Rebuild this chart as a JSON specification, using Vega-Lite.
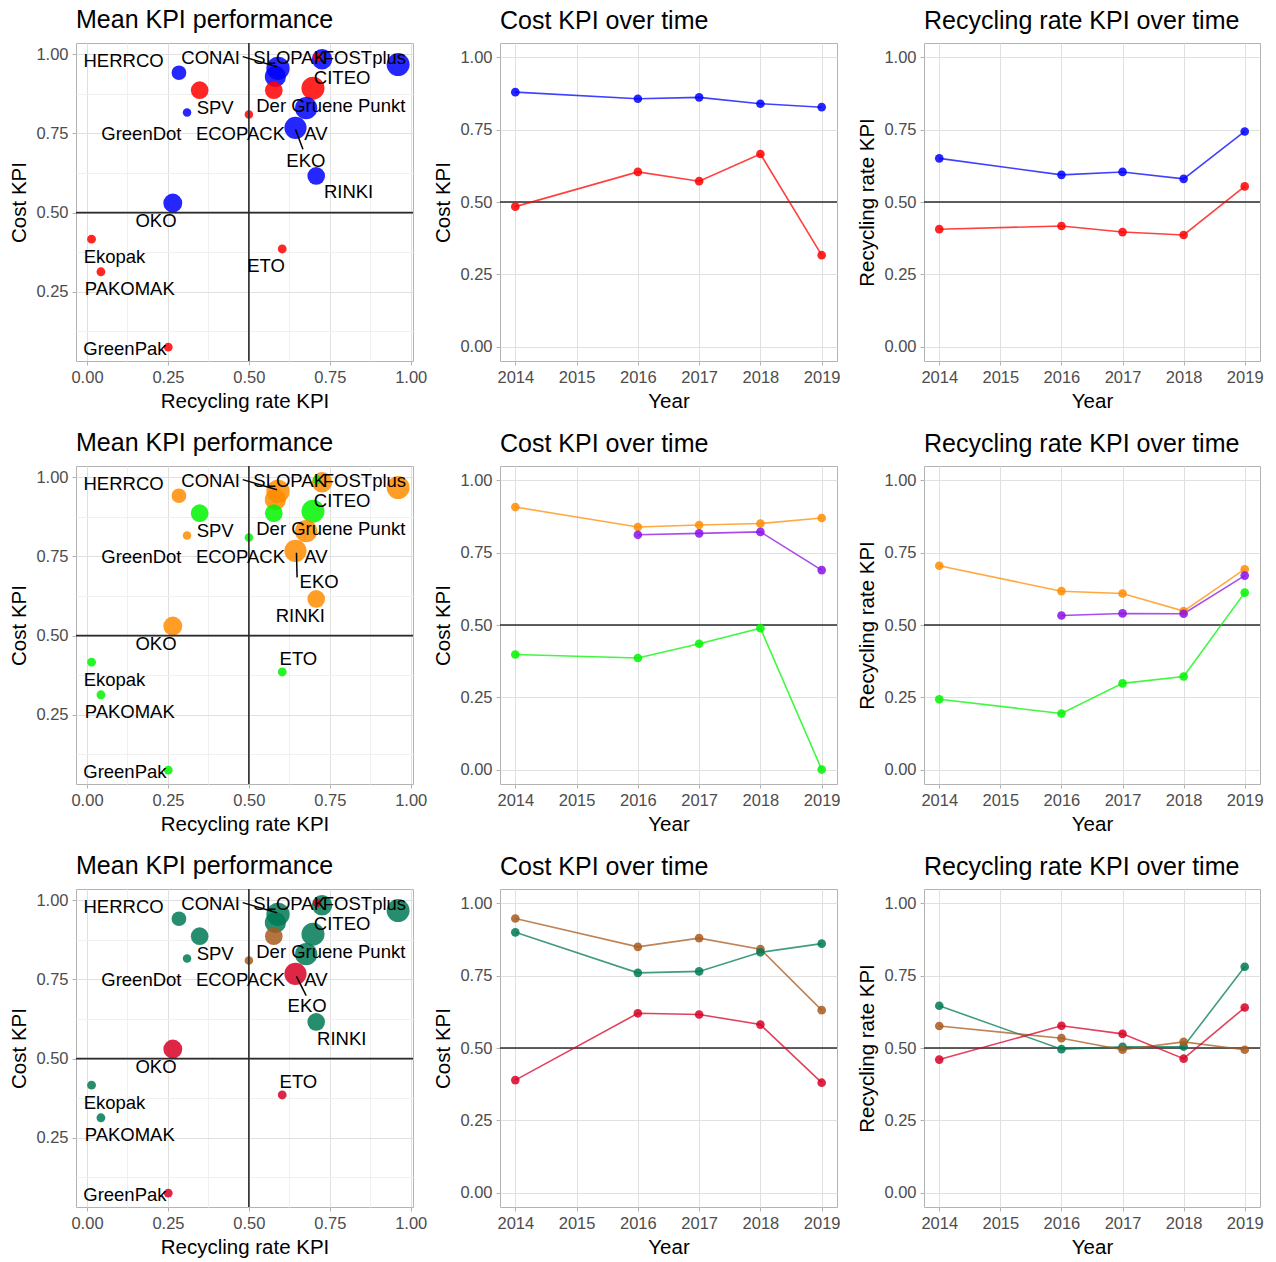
{
  "$schema": "https://vega.github.io/schema/vega-lite/v6.json",
  "padding": {"left": 9, "top": 7, "right": 0, "bottom": 0},
  "background": "white",
  "datasets": {
    "pts": [
      {"rr": 0.284, "cost": 0.942, "w": 36, "k1": "B1", "k2": "O2", "k3": "T3"},
      {"rr": 0.348, "cost": 0.887, "w": 52, "k1": "R1", "k2": "G2", "k3": "T3"},
      {"rr": 0.309, "cost": 0.816, "w": 12, "k1": "B1", "k2": "O2", "k3": "T3"},
      {"rr": 0.500, "cost": 0.810, "w": 12, "k1": "R1", "k2": "G2", "k3": "Br3"},
      {"rr": 0.590, "cost": 0.956, "w": 90, "k1": "B1", "k2": "O2", "k3": "T3"},
      {"rr": 0.582, "cost": 0.930, "w": 75, "k1": "B1", "k2": "O2", "k3": "T3"},
      {"rr": 0.577, "cost": 0.887, "w": 52, "k1": "R1", "k2": "G2", "k3": "Br3"},
      {"rr": 0.726, "cost": 0.985, "w": 70, "k1": "B1", "k2": "O2", "k3": "T3"},
      {"rr": 0.711, "cost": 0.992, "w": 13, "k1": "R1", "k2": "G2", "k3": "Rd3"},
      {"rr": 0.698, "cost": 0.893, "w": 88, "k1": "R1", "k2": "G2", "k3": "T3"},
      {"rr": 0.677, "cost": 0.830, "w": 82, "k1": "B1", "k2": "O2", "k3": "T3"},
      {"rr": 0.644, "cost": 0.768, "w": 82, "k1": "B1", "k2": "O2", "k3": "Rd3"},
      {"rr": 0.708, "cost": 0.616, "w": 52, "k1": "B1", "k2": "O2", "k3": "T3"},
      {"rr": 0.961, "cost": 0.968, "w": 88, "k1": "B1", "k2": "O2", "k3": "T3"},
      {"rr": 0.265, "cost": 0.530, "w": 60, "k1": "B1", "k2": "O2", "k3": "Rd3"},
      {"rr": 0.014, "cost": 0.416, "w": 13, "k1": "R1", "k2": "G2", "k3": "T3"},
      {"rr": 0.043, "cost": 0.313, "w": 13, "k1": "R1", "k2": "G2", "k3": "T3"},
      {"rr": 0.251, "cost": 0.075, "w": 13, "k1": "R1", "k2": "G2", "k3": "Rd3"},
      {"rr": 0.603, "cost": 0.385, "w": 13, "k1": "R1", "k2": "G2", "k3": "Rd3"}
    ],
    "labs": [
      {"name": "HERRCO", "lx": 0.113, "ly": 0.979, "panel": "all"},
      {"name": "CONAI", "lx": 0.382, "ly": 0.990, "panel": "all"},
      {"name": "SLOPAK", "lx": 0.626, "ly": 0.990, "panel": "all"},
      {"name": "FOSTplus", "lx": 0.857, "ly": 0.990, "panel": "all"},
      {"name": "CITEO", "lx": 0.788, "ly": 0.926, "panel": "all"},
      {"name": "SPV", "lx": 0.396, "ly": 0.832, "panel": "all"},
      {"name": "Der Gruene Punkt", "lx": 0.753, "ly": 0.837, "panel": "all"},
      {"name": "GreenDot", "lx": 0.168, "ly": 0.748, "panel": "all"},
      {"name": "ECOPACK", "lx": 0.474, "ly": 0.748, "panel": "all"},
      {"name": "AV", "lx": 0.707, "ly": 0.748, "panel": "all"},
      {"name": "OKO", "lx": 0.213, "ly": 0.474, "panel": "all"},
      {"name": "Ekopak", "lx": 0.085, "ly": 0.361, "panel": "all"},
      {"name": "PAKOMAK", "lx": 0.132, "ly": 0.259, "panel": "all"},
      {"name": "GreenPak", "lx": 0.117, "ly": 0.069, "panel": "all"},
      {"name": "EKO", "lx": 0.676, "ly": 0.663, "panel": "p1"},
      {"name": "RINKI", "lx": 0.808, "ly": 0.564, "panel": "p1"},
      {"name": "ETO", "lx": 0.553, "ly": 0.330, "panel": "p1"},
      {"name": "EKO", "lx": 0.717, "ly": 0.669, "panel": "p2"},
      {"name": "RINKI", "lx": 0.659, "ly": 0.562, "panel": "p2"},
      {"name": "ETO", "lx": 0.653, "ly": 0.427, "panel": "p2"},
      {"name": "EKO", "lx": 0.680, "ly": 0.666, "panel": "p3"},
      {"name": "RINKI", "lx": 0.787, "ly": 0.563, "panel": "p3"},
      {"name": "ETO", "lx": 0.653, "ly": 0.426, "panel": "p3"}
    ],
    "segs": [
      {"x": 0.481, "y": 0.993, "x2": 0.587, "y2": 0.961, "panel": "all"},
      {"x": 0.644, "y": 0.763, "x2": 0.667, "y2": 0.700, "panel": "p1"},
      {"x": 0.647, "y": 0.762, "x2": 0.649, "y2": 0.684, "panel": "p2"},
      {"x": 0.647, "y": 0.760, "x2": 0.677, "y2": 0.699, "panel": "p3"}
    ],
    "ref": [{"ref": 0.5}],
    "ts": [
      {"panel": "p1", "kpi": "cost", "k": "B1", "year": 2014, "value": 0.880},
      {"panel": "p1", "kpi": "cost", "k": "B1", "year": 2016, "value": 0.857},
      {"panel": "p1", "kpi": "cost", "k": "B1", "year": 2017, "value": 0.862},
      {"panel": "p1", "kpi": "cost", "k": "B1", "year": 2018, "value": 0.840},
      {"panel": "p1", "kpi": "cost", "k": "B1", "year": 2019, "value": 0.828},
      {"panel": "p1", "kpi": "cost", "k": "R1", "year": 2014, "value": 0.484},
      {"panel": "p1", "kpi": "cost", "k": "R1", "year": 2016, "value": 0.604},
      {"panel": "p1", "kpi": "cost", "k": "R1", "year": 2017, "value": 0.572},
      {"panel": "p1", "kpi": "cost", "k": "R1", "year": 2018, "value": 0.666},
      {"panel": "p1", "kpi": "cost", "k": "R1", "year": 2019, "value": 0.316},
      {"panel": "p1", "kpi": "rr", "k": "B1", "year": 2014, "value": 0.651},
      {"panel": "p1", "kpi": "rr", "k": "B1", "year": 2016, "value": 0.594},
      {"panel": "p1", "kpi": "rr", "k": "B1", "year": 2017, "value": 0.604},
      {"panel": "p1", "kpi": "rr", "k": "B1", "year": 2018, "value": 0.580},
      {"panel": "p1", "kpi": "rr", "k": "B1", "year": 2019, "value": 0.744},
      {"panel": "p1", "kpi": "rr", "k": "R1", "year": 2014, "value": 0.406},
      {"panel": "p1", "kpi": "rr", "k": "R1", "year": 2016, "value": 0.417},
      {"panel": "p1", "kpi": "rr", "k": "R1", "year": 2017, "value": 0.396},
      {"panel": "p1", "kpi": "rr", "k": "R1", "year": 2018, "value": 0.386},
      {"panel": "p1", "kpi": "rr", "k": "R1", "year": 2019, "value": 0.554},
      {"panel": "p2", "kpi": "cost", "k": "O2", "year": 2014, "value": 0.908},
      {"panel": "p2", "kpi": "cost", "k": "O2", "year": 2016, "value": 0.839},
      {"panel": "p2", "kpi": "cost", "k": "O2", "year": 2017, "value": 0.846},
      {"panel": "p2", "kpi": "cost", "k": "O2", "year": 2018, "value": 0.851},
      {"panel": "p2", "kpi": "cost", "k": "O2", "year": 2019, "value": 0.870},
      {"panel": "p2", "kpi": "cost", "k": "P2", "year": 2016, "value": 0.812},
      {"panel": "p2", "kpi": "cost", "k": "P2", "year": 2017, "value": 0.817},
      {"panel": "p2", "kpi": "cost", "k": "P2", "year": 2018, "value": 0.822},
      {"panel": "p2", "kpi": "cost", "k": "P2", "year": 2019, "value": 0.690},
      {"panel": "p2", "kpi": "cost", "k": "G2", "year": 2014, "value": 0.398},
      {"panel": "p2", "kpi": "cost", "k": "G2", "year": 2016, "value": 0.386},
      {"panel": "p2", "kpi": "cost", "k": "G2", "year": 2017, "value": 0.435},
      {"panel": "p2", "kpi": "cost", "k": "G2", "year": 2018, "value": 0.489},
      {"panel": "p2", "kpi": "cost", "k": "G2", "year": 2019, "value": 0.000},
      {"panel": "p2", "kpi": "rr", "k": "O2", "year": 2014, "value": 0.705},
      {"panel": "p2", "kpi": "rr", "k": "O2", "year": 2016, "value": 0.617},
      {"panel": "p2", "kpi": "rr", "k": "O2", "year": 2017, "value": 0.609},
      {"panel": "p2", "kpi": "rr", "k": "O2", "year": 2018, "value": 0.548},
      {"panel": "p2", "kpi": "rr", "k": "O2", "year": 2019, "value": 0.693},
      {"panel": "p2", "kpi": "rr", "k": "P2", "year": 2016, "value": 0.533},
      {"panel": "p2", "kpi": "rr", "k": "P2", "year": 2017, "value": 0.540},
      {"panel": "p2", "kpi": "rr", "k": "P2", "year": 2018, "value": 0.539},
      {"panel": "p2", "kpi": "rr", "k": "P2", "year": 2019, "value": 0.671},
      {"panel": "p2", "kpi": "rr", "k": "G2", "year": 2014, "value": 0.243},
      {"panel": "p2", "kpi": "rr", "k": "G2", "year": 2016, "value": 0.194},
      {"panel": "p2", "kpi": "rr", "k": "G2", "year": 2017, "value": 0.298},
      {"panel": "p2", "kpi": "rr", "k": "G2", "year": 2018, "value": 0.322},
      {"panel": "p2", "kpi": "rr", "k": "G2", "year": 2019, "value": 0.612},
      {"panel": "p3", "kpi": "cost", "k": "Br3", "year": 2014, "value": 0.948},
      {"panel": "p3", "kpi": "cost", "k": "Br3", "year": 2016, "value": 0.850},
      {"panel": "p3", "kpi": "cost", "k": "Br3", "year": 2017, "value": 0.880},
      {"panel": "p3", "kpi": "cost", "k": "Br3", "year": 2018, "value": 0.842},
      {"panel": "p3", "kpi": "cost", "k": "Br3", "year": 2019, "value": 0.631},
      {"panel": "p3", "kpi": "cost", "k": "T3", "year": 2014, "value": 0.900},
      {"panel": "p3", "kpi": "cost", "k": "T3", "year": 2016, "value": 0.760},
      {"panel": "p3", "kpi": "cost", "k": "T3", "year": 2017, "value": 0.765},
      {"panel": "p3", "kpi": "cost", "k": "T3", "year": 2018, "value": 0.831},
      {"panel": "p3", "kpi": "cost", "k": "T3", "year": 2019, "value": 0.861},
      {"panel": "p3", "kpi": "cost", "k": "Rd3", "year": 2014, "value": 0.389},
      {"panel": "p3", "kpi": "cost", "k": "Rd3", "year": 2016, "value": 0.620},
      {"panel": "p3", "kpi": "cost", "k": "Rd3", "year": 2017, "value": 0.616},
      {"panel": "p3", "kpi": "cost", "k": "Rd3", "year": 2018, "value": 0.581},
      {"panel": "p3", "kpi": "cost", "k": "Rd3", "year": 2019, "value": 0.380},
      {"panel": "p3", "kpi": "rr", "k": "T3", "year": 2014, "value": 0.646},
      {"panel": "p3", "kpi": "rr", "k": "T3", "year": 2016, "value": 0.496},
      {"panel": "p3", "kpi": "rr", "k": "T3", "year": 2017, "value": 0.504},
      {"panel": "p3", "kpi": "rr", "k": "T3", "year": 2018, "value": 0.505},
      {"panel": "p3", "kpi": "rr", "k": "T3", "year": 2019, "value": 0.781},
      {"panel": "p3", "kpi": "rr", "k": "Br3", "year": 2014, "value": 0.576},
      {"panel": "p3", "kpi": "rr", "k": "Br3", "year": 2016, "value": 0.534},
      {"panel": "p3", "kpi": "rr", "k": "Br3", "year": 2017, "value": 0.494},
      {"panel": "p3", "kpi": "rr", "k": "Br3", "year": 2018, "value": 0.521},
      {"panel": "p3", "kpi": "rr", "k": "Br3", "year": 2019, "value": 0.494},
      {"panel": "p3", "kpi": "rr", "k": "Rd3", "year": 2014, "value": 0.460},
      {"panel": "p3", "kpi": "rr", "k": "Rd3", "year": 2016, "value": 0.577},
      {"panel": "p3", "kpi": "rr", "k": "Rd3", "year": 2017, "value": 0.549},
      {"panel": "p3", "kpi": "rr", "k": "Rd3", "year": 2018, "value": 0.463},
      {"panel": "p3", "kpi": "rr", "k": "Rd3", "year": 2019, "value": 0.640}
    ]
  },
  "columns": 3,
  "bounds": "flush",
  "spacing": {"row": 105, "column": 87},
  "concat": [
    {
      "title": "Mean KPI performance", "width": 337, "height": 318,
      "layer": [
        {"data": {"name": "pts"}, "mark": {"type": "circle", "opacity": 0.85},
         "encoding": {
           "x": {"field": "rr", "type": "quantitative", "title": "Recycling rate KPI", "scale": {"domain": [-0.034, 1.007], "nice": false, "zero": false},
                 "axis": {"values": [0, 0.125, 0.25, 0.375, 0.5, 0.625, 0.75, 0.875, 1], "format": ".2f", "labelExpr": "datum.value % 0.25 === 0 ? datum.label : ''", "gridColor": {"condition": {"test": "datum.value % 0.25 === 0", "value": "#e0e0e0"}, "value": "#f0f0f0"}, "tickOpacity": {"condition": {"test": "datum.value % 0.25 === 0", "value": 1}, "value": 0}}},
           "y": {"field": "cost", "type": "quantitative", "title": "Cost KPI", "scale": {"domain": [0.031, 1.036], "nice": false, "zero": false},
                 "axis": {"values": [0.125, 0.25, 0.375, 0.5, 0.625, 0.75, 0.875, 1], "format": ".2f", "labelExpr": "datum.value % 0.25 === 0 ? datum.label : ''", "gridColor": {"condition": {"test": "datum.value % 0.25 === 0", "value": "#e0e0e0"}, "value": "#f0f0f0"}, "tickOpacity": {"condition": {"test": "datum.value % 0.25 === 0", "value": 1}, "value": 0}}},
           "size": {"field": "w", "type": "quantitative", "scale": {"type": "linear", "domain": [0, 100], "range": [0, 600]}, "legend": null},
           "color": {"field": "k1", "type": "nominal", "legend": null, "scale": {"domain": ["B1", "R1", "O2", "G2", "P2", "T3", "Br3", "Rd3"], "range": ["#0000ff", "#ff0000", "#ff8c00", "#00f500", "#8a10e8", "#007a55", "#a85a1e", "#d80026"]}}
         }},
        {"data": {"name": "ref"}, "mark": {"type": "rule", "color": "#2b2b2b", "strokeWidth": 1.6},
         "encoding": {"x": {"field": "ref", "type": "quantitative", "title": "Recycling rate KPI", "scale": {"domain": [-0.034, 1.007], "nice": false, "zero": false}}}},
        {"data": {"name": "ref"}, "mark": {"type": "rule", "color": "#2b2b2b", "strokeWidth": 1.6},
         "encoding": {"y": {"field": "ref", "type": "quantitative", "title": "Cost KPI", "scale": {"domain": [0.031, 1.036], "nice": false, "zero": false}}}},
        {"data": {"name": "segs"}, "transform": [{"filter": "datum.panel === 'all' || datum.panel === 'p1'"}], "mark": {"type": "rule", "color": "#000000", "strokeWidth": 1.5},
         "encoding": {"x": {"field": "x", "type": "quantitative", "title": "Recycling rate KPI", "scale": {"domain": [-0.034, 1.007], "nice": false, "zero": false}}, "y": {"field": "y", "type": "quantitative", "title": "Cost KPI", "scale": {"domain": [0.031, 1.036], "nice": false, "zero": false}}, "x2": {"field": "x2", "title": "Recycling rate KPI"}, "y2": {"field": "y2", "title": "Cost KPI"}}},
        {"data": {"name": "labs"}, "transform": [{"filter": "datum.panel === 'all' || datum.panel === 'p1'"}], "mark": {"type": "text", "fontSize": 18.5, "color": "#000000", "align": "center", "baseline": "middle"},
         "encoding": {"x": {"field": "lx", "type": "quantitative", "title": "Recycling rate KPI", "scale": {"domain": [-0.034, 1.007], "nice": false, "zero": false}}, "y": {"field": "ly", "type": "quantitative", "title": "Cost KPI", "scale": {"domain": [0.031, 1.036], "nice": false, "zero": false}}, "text": {"field": "name", "type": "nominal"}}}
      ]
    },
    {
      "title": "Cost KPI over time", "width": 337, "height": 318,
      "layer": [
        {"data": {"name": "ref"}, "mark": {"type": "rule", "color": "#2b2b2b", "strokeWidth": 1.6},
         "encoding": {"y": {"field": "ref", "type": "quantitative", "title": "Cost KPI", "scale": {"domain": [-0.05, 1.05], "nice": false, "zero": false},
           "axis": {"values": [0, 0.125, 0.25, 0.375, 0.5, 0.625, 0.75, 0.875, 1], "format": ".2f", "labelExpr": "datum.value % 0.25 === 0 ? datum.label : ''", "gridColor": {"condition": {"test": "datum.value % 0.25 === 0", "value": "#e0e0e0"}, "value": "#f0f0f0"}, "tickOpacity": {"condition": {"test": "datum.value % 0.25 === 0", "value": 1}, "value": 0}}}}},
        {"data": {"name": "ts"}, "transform": [{"filter": "datum.panel === 'p1' && datum.kpi === 'cost'"}], "mark": {"type": "line", "strokeWidth": 1.6, "opacity": 0.75},
         "encoding": {
           "x": {"field": "year", "type": "quantitative", "title": "Year", "scale": {"domain": [2013.75, 2019.25], "nice": false, "zero": false},
                 "axis": {"values": [2014, 2014.5, 2015, 2015.5, 2016, 2016.5, 2017, 2017.5, 2018, 2018.5, 2019], "format": "d", "labelExpr": "datum.value % 1 === 0 ? datum.label : ''", "gridColor": {"condition": {"test": "datum.value % 1 === 0", "value": "#e0e0e0"}, "value": "#f0f0f0"}, "tickOpacity": {"condition": {"test": "datum.value % 1 === 0", "value": 1}, "value": 0}}},
           "y": {"field": "value", "type": "quantitative", "title": "Cost KPI", "scale": {"domain": [-0.05, 1.05], "nice": false, "zero": false}},
           "color": {"field": "k", "type": "nominal", "legend": null, "scale": {"domain": ["B1", "R1", "O2", "G2", "P2", "T3", "Br3", "Rd3"], "range": ["#0000ff", "#ff0000", "#ff8c00", "#00f500", "#8a10e8", "#007a55", "#a85a1e", "#d80026"]}}
         }},
        {"data": {"name": "ts"}, "transform": [{"filter": "datum.panel === 'p1' && datum.kpi === 'cost'"}], "mark": {"type": "circle", "size": 75, "opacity": 0.85},
         "encoding": {
           "x": {"field": "year", "type": "quantitative", "title": "Year", "scale": {"domain": [2013.75, 2019.25], "nice": false, "zero": false}},
           "y": {"field": "value", "type": "quantitative", "title": "Cost KPI", "scale": {"domain": [-0.05, 1.05], "nice": false, "zero": false}},
           "color": {"field": "k", "type": "nominal", "legend": null, "scale": {"domain": ["B1", "R1", "O2", "G2", "P2", "T3", "Br3", "Rd3"], "range": ["#0000ff", "#ff0000", "#ff8c00", "#00f500", "#8a10e8", "#007a55", "#a85a1e", "#d80026"]}}
         }}
      ]
    },
    {
      "title": "Recycling rate KPI over time", "width": 336, "height": 318,
      "layer": [
        {"data": {"name": "ref"}, "mark": {"type": "rule", "color": "#2b2b2b", "strokeWidth": 1.6},
         "encoding": {"y": {"field": "ref", "type": "quantitative", "title": "Recycling rate KPI", "scale": {"domain": [-0.05, 1.05], "nice": false, "zero": false},
           "axis": {"values": [0, 0.125, 0.25, 0.375, 0.5, 0.625, 0.75, 0.875, 1], "format": ".2f", "labelExpr": "datum.value % 0.25 === 0 ? datum.label : ''", "gridColor": {"condition": {"test": "datum.value % 0.25 === 0", "value": "#e0e0e0"}, "value": "#f0f0f0"}, "tickOpacity": {"condition": {"test": "datum.value % 0.25 === 0", "value": 1}, "value": 0}}}}},
        {"data": {"name": "ts"}, "transform": [{"filter": "datum.panel === 'p1' && datum.kpi === 'rr'"}], "mark": {"type": "line", "strokeWidth": 1.6, "opacity": 0.75},
         "encoding": {
           "x": {"field": "year", "type": "quantitative", "title": "Year", "scale": {"domain": [2013.75, 2019.25], "nice": false, "zero": false},
                 "axis": {"values": [2014, 2014.5, 2015, 2015.5, 2016, 2016.5, 2017, 2017.5, 2018, 2018.5, 2019], "format": "d", "labelExpr": "datum.value % 1 === 0 ? datum.label : ''", "gridColor": {"condition": {"test": "datum.value % 1 === 0", "value": "#e0e0e0"}, "value": "#f0f0f0"}, "tickOpacity": {"condition": {"test": "datum.value % 1 === 0", "value": 1}, "value": 0}}},
           "y": {"field": "value", "type": "quantitative", "title": "Recycling rate KPI", "scale": {"domain": [-0.05, 1.05], "nice": false, "zero": false}},
           "color": {"field": "k", "type": "nominal", "legend": null, "scale": {"domain": ["B1", "R1", "O2", "G2", "P2", "T3", "Br3", "Rd3"], "range": ["#0000ff", "#ff0000", "#ff8c00", "#00f500", "#8a10e8", "#007a55", "#a85a1e", "#d80026"]}}
         }},
        {"data": {"name": "ts"}, "transform": [{"filter": "datum.panel === 'p1' && datum.kpi === 'rr'"}], "mark": {"type": "circle", "size": 75, "opacity": 0.85},
         "encoding": {
           "x": {"field": "year", "type": "quantitative", "title": "Year", "scale": {"domain": [2013.75, 2019.25], "nice": false, "zero": false}},
           "y": {"field": "value", "type": "quantitative", "title": "Recycling rate KPI", "scale": {"domain": [-0.05, 1.05], "nice": false, "zero": false}},
           "color": {"field": "k", "type": "nominal", "legend": null, "scale": {"domain": ["B1", "R1", "O2", "G2", "P2", "T3", "Br3", "Rd3"], "range": ["#0000ff", "#ff0000", "#ff8c00", "#00f500", "#8a10e8", "#007a55", "#a85a1e", "#d80026"]}}
         }}
      ]
    },
    {
      "title": "Mean KPI performance", "width": 337, "height": 318,
      "layer": [
        {"data": {"name": "pts"}, "mark": {"type": "circle", "opacity": 0.85},
         "encoding": {
           "x": {"field": "rr", "type": "quantitative", "title": "Recycling rate KPI", "scale": {"domain": [-0.034, 1.007], "nice": false, "zero": false},
                 "axis": {"values": [0, 0.125, 0.25, 0.375, 0.5, 0.625, 0.75, 0.875, 1], "format": ".2f", "labelExpr": "datum.value % 0.25 === 0 ? datum.label : ''", "gridColor": {"condition": {"test": "datum.value % 0.25 === 0", "value": "#e0e0e0"}, "value": "#f0f0f0"}, "tickOpacity": {"condition": {"test": "datum.value % 0.25 === 0", "value": 1}, "value": 0}}},
           "y": {"field": "cost", "type": "quantitative", "title": "Cost KPI", "scale": {"domain": [0.031, 1.036], "nice": false, "zero": false},
                 "axis": {"values": [0.125, 0.25, 0.375, 0.5, 0.625, 0.75, 0.875, 1], "format": ".2f", "labelExpr": "datum.value % 0.25 === 0 ? datum.label : ''", "gridColor": {"condition": {"test": "datum.value % 0.25 === 0", "value": "#e0e0e0"}, "value": "#f0f0f0"}, "tickOpacity": {"condition": {"test": "datum.value % 0.25 === 0", "value": 1}, "value": 0}}},
           "size": {"field": "w", "type": "quantitative", "scale": {"type": "linear", "domain": [0, 100], "range": [0, 600]}, "legend": null},
           "color": {"field": "k2", "type": "nominal", "legend": null, "scale": {"domain": ["B1", "R1", "O2", "G2", "P2", "T3", "Br3", "Rd3"], "range": ["#0000ff", "#ff0000", "#ff8c00", "#00f500", "#8a10e8", "#007a55", "#a85a1e", "#d80026"]}}
         }},
        {"data": {"name": "ref"}, "mark": {"type": "rule", "color": "#2b2b2b", "strokeWidth": 1.6},
         "encoding": {"x": {"field": "ref", "type": "quantitative", "title": "Recycling rate KPI", "scale": {"domain": [-0.034, 1.007], "nice": false, "zero": false}}}},
        {"data": {"name": "ref"}, "mark": {"type": "rule", "color": "#2b2b2b", "strokeWidth": 1.6},
         "encoding": {"y": {"field": "ref", "type": "quantitative", "title": "Cost KPI", "scale": {"domain": [0.031, 1.036], "nice": false, "zero": false}}}},
        {"data": {"name": "segs"}, "transform": [{"filter": "datum.panel === 'all' || datum.panel === 'p2'"}], "mark": {"type": "rule", "color": "#000000", "strokeWidth": 1.5},
         "encoding": {"x": {"field": "x", "type": "quantitative", "title": "Recycling rate KPI", "scale": {"domain": [-0.034, 1.007], "nice": false, "zero": false}}, "y": {"field": "y", "type": "quantitative", "title": "Cost KPI", "scale": {"domain": [0.031, 1.036], "nice": false, "zero": false}}, "x2": {"field": "x2", "title": "Recycling rate KPI"}, "y2": {"field": "y2", "title": "Cost KPI"}}},
        {"data": {"name": "labs"}, "transform": [{"filter": "datum.panel === 'all' || datum.panel === 'p2'"}], "mark": {"type": "text", "fontSize": 18.5, "color": "#000000", "align": "center", "baseline": "middle"},
         "encoding": {"x": {"field": "lx", "type": "quantitative", "title": "Recycling rate KPI", "scale": {"domain": [-0.034, 1.007], "nice": false, "zero": false}}, "y": {"field": "ly", "type": "quantitative", "title": "Cost KPI", "scale": {"domain": [0.031, 1.036], "nice": false, "zero": false}}, "text": {"field": "name", "type": "nominal"}}}
      ]
    },
    {
      "title": "Cost KPI over time", "width": 337, "height": 318,
      "layer": [
        {"data": {"name": "ref"}, "mark": {"type": "rule", "color": "#2b2b2b", "strokeWidth": 1.6},
         "encoding": {"y": {"field": "ref", "type": "quantitative", "title": "Cost KPI", "scale": {"domain": [-0.05, 1.05], "nice": false, "zero": false},
           "axis": {"values": [0, 0.125, 0.25, 0.375, 0.5, 0.625, 0.75, 0.875, 1], "format": ".2f", "labelExpr": "datum.value % 0.25 === 0 ? datum.label : ''", "gridColor": {"condition": {"test": "datum.value % 0.25 === 0", "value": "#e0e0e0"}, "value": "#f0f0f0"}, "tickOpacity": {"condition": {"test": "datum.value % 0.25 === 0", "value": 1}, "value": 0}}}}},
        {"data": {"name": "ts"}, "transform": [{"filter": "datum.panel === 'p2' && datum.kpi === 'cost'"}], "mark": {"type": "line", "strokeWidth": 1.6, "opacity": 0.75},
         "encoding": {
           "x": {"field": "year", "type": "quantitative", "title": "Year", "scale": {"domain": [2013.75, 2019.25], "nice": false, "zero": false},
                 "axis": {"values": [2014, 2014.5, 2015, 2015.5, 2016, 2016.5, 2017, 2017.5, 2018, 2018.5, 2019], "format": "d", "labelExpr": "datum.value % 1 === 0 ? datum.label : ''", "gridColor": {"condition": {"test": "datum.value % 1 === 0", "value": "#e0e0e0"}, "value": "#f0f0f0"}, "tickOpacity": {"condition": {"test": "datum.value % 1 === 0", "value": 1}, "value": 0}}},
           "y": {"field": "value", "type": "quantitative", "title": "Cost KPI", "scale": {"domain": [-0.05, 1.05], "nice": false, "zero": false}},
           "color": {"field": "k", "type": "nominal", "legend": null, "scale": {"domain": ["B1", "R1", "O2", "G2", "P2", "T3", "Br3", "Rd3"], "range": ["#0000ff", "#ff0000", "#ff8c00", "#00f500", "#8a10e8", "#007a55", "#a85a1e", "#d80026"]}}
         }},
        {"data": {"name": "ts"}, "transform": [{"filter": "datum.panel === 'p2' && datum.kpi === 'cost'"}], "mark": {"type": "circle", "size": 75, "opacity": 0.85},
         "encoding": {
           "x": {"field": "year", "type": "quantitative", "title": "Year", "scale": {"domain": [2013.75, 2019.25], "nice": false, "zero": false}},
           "y": {"field": "value", "type": "quantitative", "title": "Cost KPI", "scale": {"domain": [-0.05, 1.05], "nice": false, "zero": false}},
           "color": {"field": "k", "type": "nominal", "legend": null, "scale": {"domain": ["B1", "R1", "O2", "G2", "P2", "T3", "Br3", "Rd3"], "range": ["#0000ff", "#ff0000", "#ff8c00", "#00f500", "#8a10e8", "#007a55", "#a85a1e", "#d80026"]}}
         }}
      ]
    },
    {
      "title": "Recycling rate KPI over time", "width": 336, "height": 318,
      "layer": [
        {"data": {"name": "ref"}, "mark": {"type": "rule", "color": "#2b2b2b", "strokeWidth": 1.6},
         "encoding": {"y": {"field": "ref", "type": "quantitative", "title": "Recycling rate KPI", "scale": {"domain": [-0.05, 1.05], "nice": false, "zero": false},
           "axis": {"values": [0, 0.125, 0.25, 0.375, 0.5, 0.625, 0.75, 0.875, 1], "format": ".2f", "labelExpr": "datum.value % 0.25 === 0 ? datum.label : ''", "gridColor": {"condition": {"test": "datum.value % 0.25 === 0", "value": "#e0e0e0"}, "value": "#f0f0f0"}, "tickOpacity": {"condition": {"test": "datum.value % 0.25 === 0", "value": 1}, "value": 0}}}}},
        {"data": {"name": "ts"}, "transform": [{"filter": "datum.panel === 'p2' && datum.kpi === 'rr'"}], "mark": {"type": "line", "strokeWidth": 1.6, "opacity": 0.75},
         "encoding": {
           "x": {"field": "year", "type": "quantitative", "title": "Year", "scale": {"domain": [2013.75, 2019.25], "nice": false, "zero": false},
                 "axis": {"values": [2014, 2014.5, 2015, 2015.5, 2016, 2016.5, 2017, 2017.5, 2018, 2018.5, 2019], "format": "d", "labelExpr": "datum.value % 1 === 0 ? datum.label : ''", "gridColor": {"condition": {"test": "datum.value % 1 === 0", "value": "#e0e0e0"}, "value": "#f0f0f0"}, "tickOpacity": {"condition": {"test": "datum.value % 1 === 0", "value": 1}, "value": 0}}},
           "y": {"field": "value", "type": "quantitative", "title": "Recycling rate KPI", "scale": {"domain": [-0.05, 1.05], "nice": false, "zero": false}},
           "color": {"field": "k", "type": "nominal", "legend": null, "scale": {"domain": ["B1", "R1", "O2", "G2", "P2", "T3", "Br3", "Rd3"], "range": ["#0000ff", "#ff0000", "#ff8c00", "#00f500", "#8a10e8", "#007a55", "#a85a1e", "#d80026"]}}
         }},
        {"data": {"name": "ts"}, "transform": [{"filter": "datum.panel === 'p2' && datum.kpi === 'rr'"}], "mark": {"type": "circle", "size": 75, "opacity": 0.85},
         "encoding": {
           "x": {"field": "year", "type": "quantitative", "title": "Year", "scale": {"domain": [2013.75, 2019.25], "nice": false, "zero": false}},
           "y": {"field": "value", "type": "quantitative", "title": "Recycling rate KPI", "scale": {"domain": [-0.05, 1.05], "nice": false, "zero": false}},
           "color": {"field": "k", "type": "nominal", "legend": null, "scale": {"domain": ["B1", "R1", "O2", "G2", "P2", "T3", "Br3", "Rd3"], "range": ["#0000ff", "#ff0000", "#ff8c00", "#00f500", "#8a10e8", "#007a55", "#a85a1e", "#d80026"]}}
         }}
      ]
    },
    {
      "title": "Mean KPI performance", "width": 337, "height": 318,
      "layer": [
        {"data": {"name": "pts"}, "mark": {"type": "circle", "opacity": 0.85},
         "encoding": {
           "x": {"field": "rr", "type": "quantitative", "title": "Recycling rate KPI", "scale": {"domain": [-0.034, 1.007], "nice": false, "zero": false},
                 "axis": {"values": [0, 0.125, 0.25, 0.375, 0.5, 0.625, 0.75, 0.875, 1], "format": ".2f", "labelExpr": "datum.value % 0.25 === 0 ? datum.label : ''", "gridColor": {"condition": {"test": "datum.value % 0.25 === 0", "value": "#e0e0e0"}, "value": "#f0f0f0"}, "tickOpacity": {"condition": {"test": "datum.value % 0.25 === 0", "value": 1}, "value": 0}}},
           "y": {"field": "cost", "type": "quantitative", "title": "Cost KPI", "scale": {"domain": [0.031, 1.036], "nice": false, "zero": false},
                 "axis": {"values": [0.125, 0.25, 0.375, 0.5, 0.625, 0.75, 0.875, 1], "format": ".2f", "labelExpr": "datum.value % 0.25 === 0 ? datum.label : ''", "gridColor": {"condition": {"test": "datum.value % 0.25 === 0", "value": "#e0e0e0"}, "value": "#f0f0f0"}, "tickOpacity": {"condition": {"test": "datum.value % 0.25 === 0", "value": 1}, "value": 0}}},
           "size": {"field": "w", "type": "quantitative", "scale": {"type": "linear", "domain": [0, 100], "range": [0, 600]}, "legend": null},
           "color": {"field": "k3", "type": "nominal", "legend": null, "scale": {"domain": ["B1", "R1", "O2", "G2", "P2", "T3", "Br3", "Rd3"], "range": ["#0000ff", "#ff0000", "#ff8c00", "#00f500", "#8a10e8", "#007a55", "#a85a1e", "#d80026"]}}
         }},
        {"data": {"name": "ref"}, "mark": {"type": "rule", "color": "#2b2b2b", "strokeWidth": 1.6},
         "encoding": {"x": {"field": "ref", "type": "quantitative", "title": "Recycling rate KPI", "scale": {"domain": [-0.034, 1.007], "nice": false, "zero": false}}}},
        {"data": {"name": "ref"}, "mark": {"type": "rule", "color": "#2b2b2b", "strokeWidth": 1.6},
         "encoding": {"y": {"field": "ref", "type": "quantitative", "title": "Cost KPI", "scale": {"domain": [0.031, 1.036], "nice": false, "zero": false}}}},
        {"data": {"name": "segs"}, "transform": [{"filter": "datum.panel === 'all' || datum.panel === 'p3'"}], "mark": {"type": "rule", "color": "#000000", "strokeWidth": 1.5},
         "encoding": {"x": {"field": "x", "type": "quantitative", "title": "Recycling rate KPI", "scale": {"domain": [-0.034, 1.007], "nice": false, "zero": false}}, "y": {"field": "y", "type": "quantitative", "title": "Cost KPI", "scale": {"domain": [0.031, 1.036], "nice": false, "zero": false}}, "x2": {"field": "x2", "title": "Recycling rate KPI"}, "y2": {"field": "y2", "title": "Cost KPI"}}},
        {"data": {"name": "labs"}, "transform": [{"filter": "datum.panel === 'all' || datum.panel === 'p3'"}], "mark": {"type": "text", "fontSize": 18.5, "color": "#000000", "align": "center", "baseline": "middle"},
         "encoding": {"x": {"field": "lx", "type": "quantitative", "title": "Recycling rate KPI", "scale": {"domain": [-0.034, 1.007], "nice": false, "zero": false}}, "y": {"field": "ly", "type": "quantitative", "title": "Cost KPI", "scale": {"domain": [0.031, 1.036], "nice": false, "zero": false}}, "text": {"field": "name", "type": "nominal"}}}
      ]
    },
    {
      "title": "Cost KPI over time", "width": 337, "height": 318,
      "layer": [
        {"data": {"name": "ref"}, "mark": {"type": "rule", "color": "#2b2b2b", "strokeWidth": 1.6},
         "encoding": {"y": {"field": "ref", "type": "quantitative", "title": "Cost KPI", "scale": {"domain": [-0.05, 1.05], "nice": false, "zero": false},
           "axis": {"values": [0, 0.125, 0.25, 0.375, 0.5, 0.625, 0.75, 0.875, 1], "format": ".2f", "labelExpr": "datum.value % 0.25 === 0 ? datum.label : ''", "gridColor": {"condition": {"test": "datum.value % 0.25 === 0", "value": "#e0e0e0"}, "value": "#f0f0f0"}, "tickOpacity": {"condition": {"test": "datum.value % 0.25 === 0", "value": 1}, "value": 0}}}}},
        {"data": {"name": "ts"}, "transform": [{"filter": "datum.panel === 'p3' && datum.kpi === 'cost'"}], "mark": {"type": "line", "strokeWidth": 1.6, "opacity": 0.75},
         "encoding": {
           "x": {"field": "year", "type": "quantitative", "title": "Year", "scale": {"domain": [2013.75, 2019.25], "nice": false, "zero": false},
                 "axis": {"values": [2014, 2014.5, 2015, 2015.5, 2016, 2016.5, 2017, 2017.5, 2018, 2018.5, 2019], "format": "d", "labelExpr": "datum.value % 1 === 0 ? datum.label : ''", "gridColor": {"condition": {"test": "datum.value % 1 === 0", "value": "#e0e0e0"}, "value": "#f0f0f0"}, "tickOpacity": {"condition": {"test": "datum.value % 1 === 0", "value": 1}, "value": 0}}},
           "y": {"field": "value", "type": "quantitative", "title": "Cost KPI", "scale": {"domain": [-0.05, 1.05], "nice": false, "zero": false}},
           "color": {"field": "k", "type": "nominal", "legend": null, "scale": {"domain": ["B1", "R1", "O2", "G2", "P2", "T3", "Br3", "Rd3"], "range": ["#0000ff", "#ff0000", "#ff8c00", "#00f500", "#8a10e8", "#007a55", "#a85a1e", "#d80026"]}}
         }},
        {"data": {"name": "ts"}, "transform": [{"filter": "datum.panel === 'p3' && datum.kpi === 'cost'"}], "mark": {"type": "circle", "size": 75, "opacity": 0.85},
         "encoding": {
           "x": {"field": "year", "type": "quantitative", "title": "Year", "scale": {"domain": [2013.75, 2019.25], "nice": false, "zero": false}},
           "y": {"field": "value", "type": "quantitative", "title": "Cost KPI", "scale": {"domain": [-0.05, 1.05], "nice": false, "zero": false}},
           "color": {"field": "k", "type": "nominal", "legend": null, "scale": {"domain": ["B1", "R1", "O2", "G2", "P2", "T3", "Br3", "Rd3"], "range": ["#0000ff", "#ff0000", "#ff8c00", "#00f500", "#8a10e8", "#007a55", "#a85a1e", "#d80026"]}}
         }}
      ]
    },
    {
      "title": "Recycling rate KPI over time", "width": 336, "height": 318,
      "layer": [
        {"data": {"name": "ref"}, "mark": {"type": "rule", "color": "#2b2b2b", "strokeWidth": 1.6},
         "encoding": {"y": {"field": "ref", "type": "quantitative", "title": "Recycling rate KPI", "scale": {"domain": [-0.05, 1.05], "nice": false, "zero": false},
           "axis": {"values": [0, 0.125, 0.25, 0.375, 0.5, 0.625, 0.75, 0.875, 1], "format": ".2f", "labelExpr": "datum.value % 0.25 === 0 ? datum.label : ''", "gridColor": {"condition": {"test": "datum.value % 0.25 === 0", "value": "#e0e0e0"}, "value": "#f0f0f0"}, "tickOpacity": {"condition": {"test": "datum.value % 0.25 === 0", "value": 1}, "value": 0}}}}},
        {"data": {"name": "ts"}, "transform": [{"filter": "datum.panel === 'p3' && datum.kpi === 'rr'"}], "mark": {"type": "line", "strokeWidth": 1.6, "opacity": 0.75},
         "encoding": {
           "x": {"field": "year", "type": "quantitative", "title": "Year", "scale": {"domain": [2013.75, 2019.25], "nice": false, "zero": false},
                 "axis": {"values": [2014, 2014.5, 2015, 2015.5, 2016, 2016.5, 2017, 2017.5, 2018, 2018.5, 2019], "format": "d", "labelExpr": "datum.value % 1 === 0 ? datum.label : ''", "gridColor": {"condition": {"test": "datum.value % 1 === 0", "value": "#e0e0e0"}, "value": "#f0f0f0"}, "tickOpacity": {"condition": {"test": "datum.value % 1 === 0", "value": 1}, "value": 0}}},
           "y": {"field": "value", "type": "quantitative", "title": "Recycling rate KPI", "scale": {"domain": [-0.05, 1.05], "nice": false, "zero": false}},
           "color": {"field": "k", "type": "nominal", "legend": null, "scale": {"domain": ["B1", "R1", "O2", "G2", "P2", "T3", "Br3", "Rd3"], "range": ["#0000ff", "#ff0000", "#ff8c00", "#00f500", "#8a10e8", "#007a55", "#a85a1e", "#d80026"]}}
         }},
        {"data": {"name": "ts"}, "transform": [{"filter": "datum.panel === 'p3' && datum.kpi === 'rr'"}], "mark": {"type": "circle", "size": 75, "opacity": 0.85},
         "encoding": {
           "x": {"field": "year", "type": "quantitative", "title": "Year", "scale": {"domain": [2013.75, 2019.25], "nice": false, "zero": false}},
           "y": {"field": "value", "type": "quantitative", "title": "Recycling rate KPI", "scale": {"domain": [-0.05, 1.05], "nice": false, "zero": false}},
           "color": {"field": "k", "type": "nominal", "legend": null, "scale": {"domain": ["B1", "R1", "O2", "G2", "P2", "T3", "Br3", "Rd3"], "range": ["#0000ff", "#ff0000", "#ff8c00", "#00f500", "#8a10e8", "#007a55", "#a85a1e", "#d80026"]}}
         }}
      ]
    }
  ],
  "config": {
    "font": "Liberation Sans",
    "view": {"stroke": "#b3b3b3", "strokeWidth": 1},
    "axis": {
      "domain": false, "grid": true, "gridWidth": 1, "tickColor": "#b3b3b3", "tickSize": 4, "tickWidth": 1,
      "labelFont": "Liberation Sans", "labelFontSize": 16.5, "labelColor": "#4d4d4d", "labelPadding": 4, "labelFlush": false, "labelOverlap": false,
      "titleFont": "Liberation Sans", "titleFontSize": 20.5, "titleFontWeight": "normal", "titleColor": "#000000", "titlePadding": 6
    },
    "title": {"anchor": "start", "frame": "group", "font": "Liberation Sans", "fontSize": 25, "fontWeight": "normal", "color": "#000000", "offset": 9.5, "baseline": "alphabetic"},
    "text": {"font": "Liberation Sans"}
  }
}
